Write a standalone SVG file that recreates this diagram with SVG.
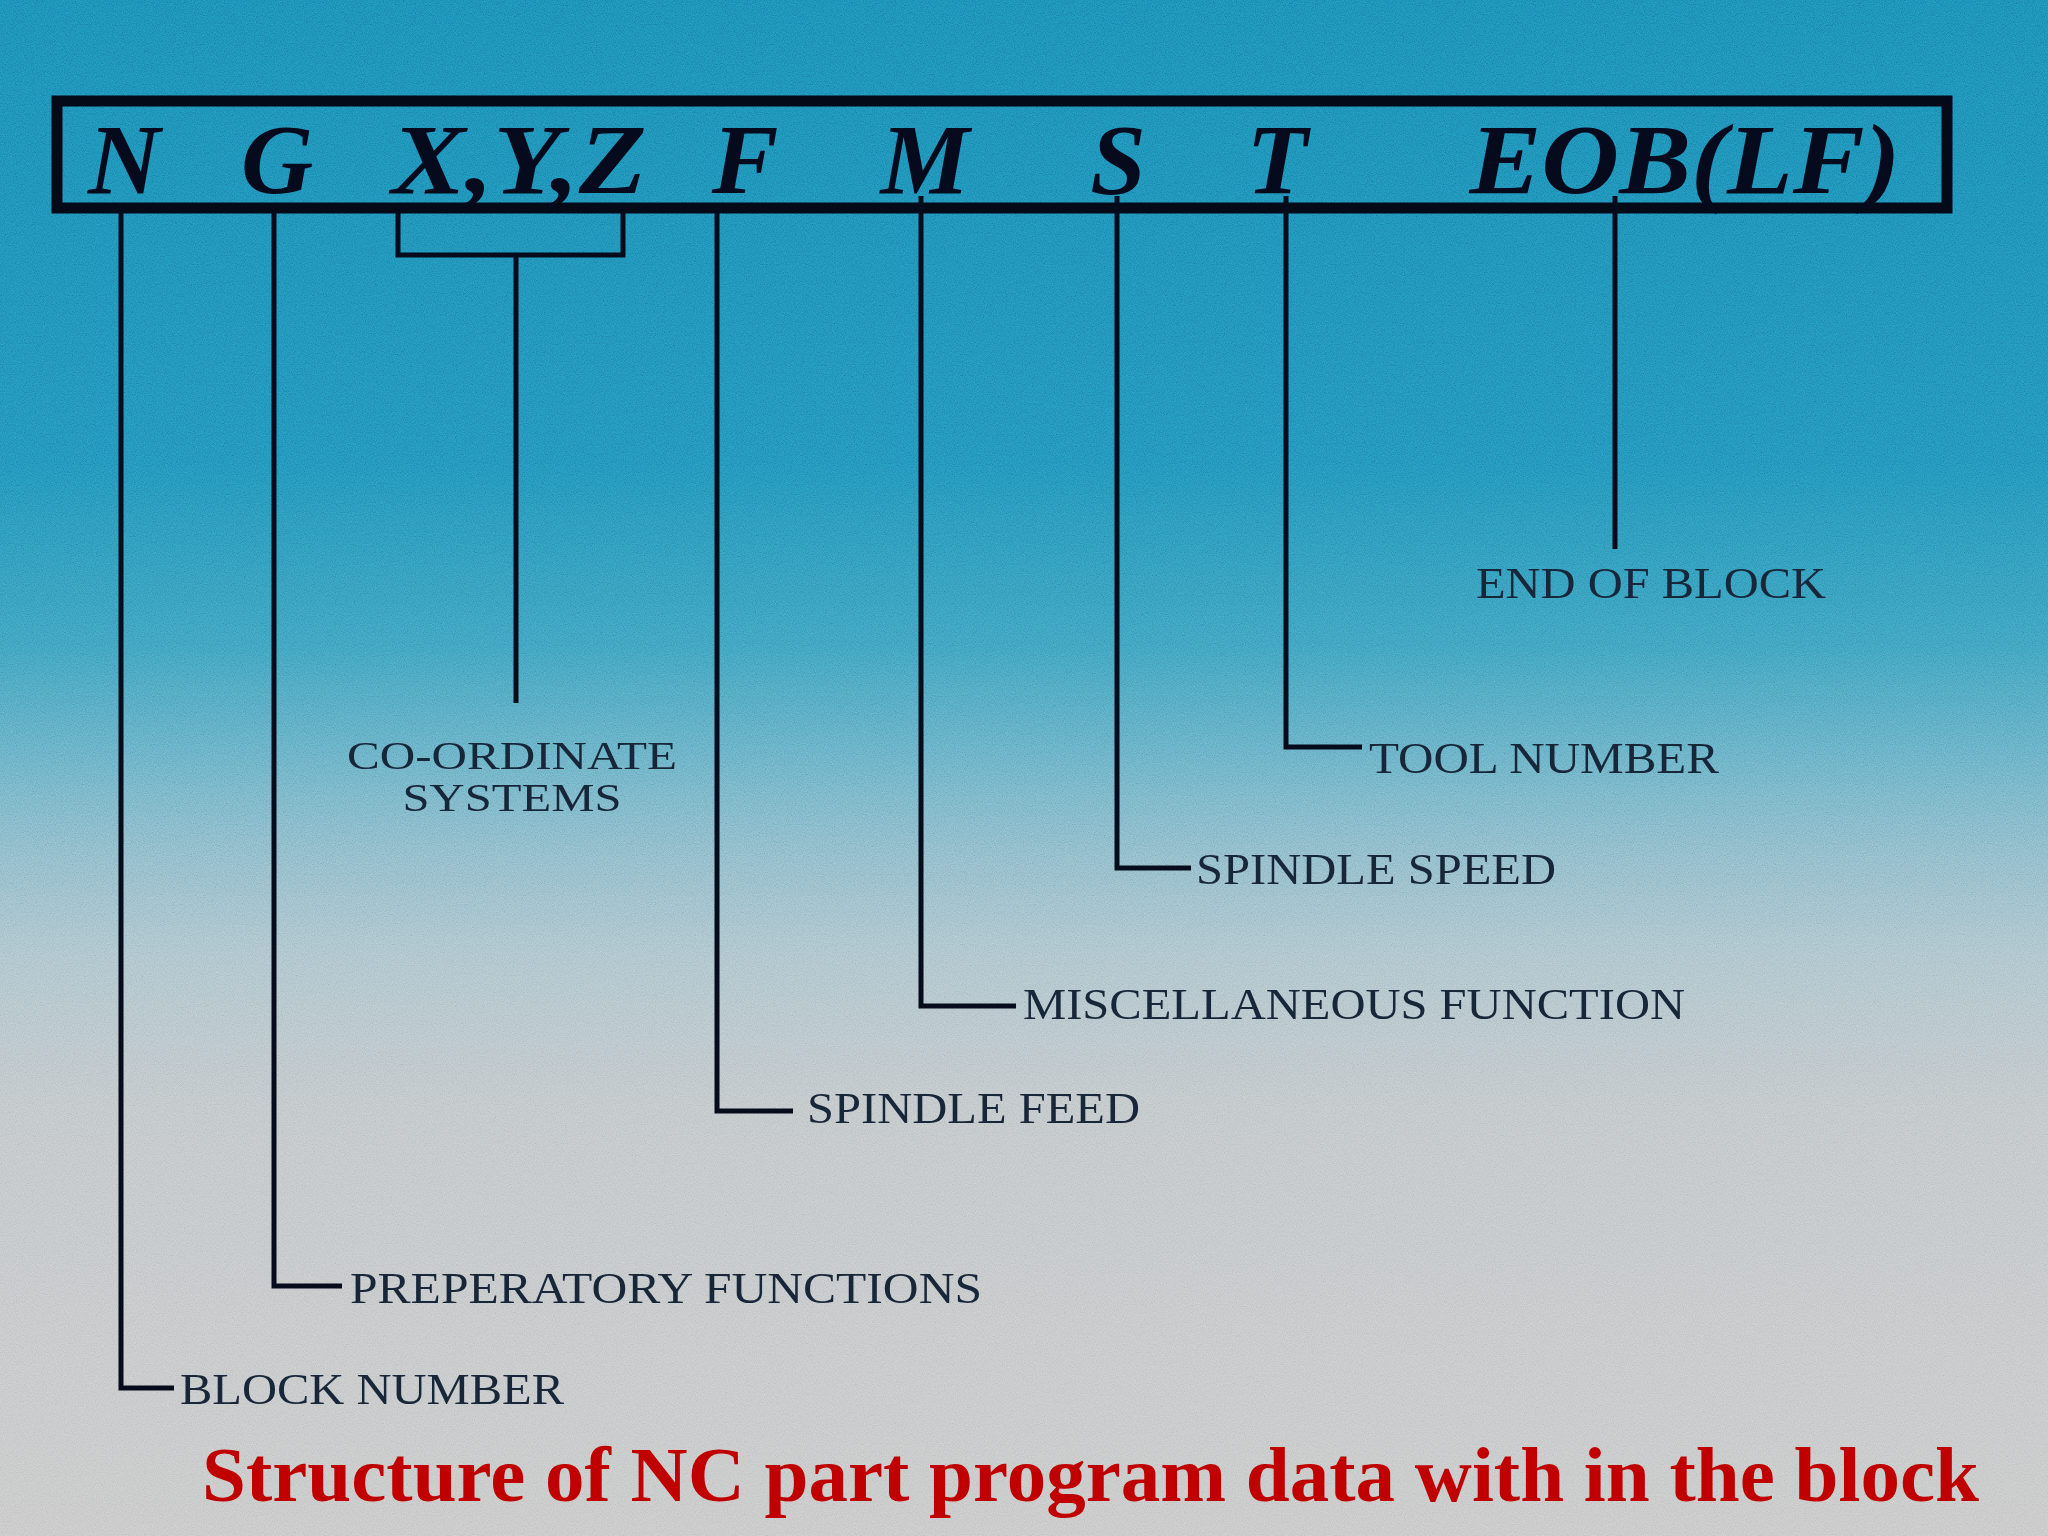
<svg xmlns="http://www.w3.org/2000/svg" width="2048" height="1536" viewBox="0 0 2048 1536">
  <defs>
    <linearGradient id="bg" x1="0" y1="0" x2="0" y2="1">
      <stop offset="0" stop-color="#1a82ae"/>
      <stop offset="0.3" stop-color="#2088b2"/>
      <stop offset="0.42" stop-color="#3a98b8"/>
      <stop offset="0.52" stop-color="#70aec2"/>
      <stop offset="0.62" stop-color="#a4bec7"/>
      <stop offset="0.72" stop-color="#bbc1c4"/>
      <stop offset="1" stop-color="#c3c3c3"/>
    </linearGradient>
    <filter id="noise" x="0" y="0" width="100%" height="100%">
      <feTurbulence type="fractalNoise" baseFrequency="0.9" numOctaves="2" seed="7" result="t"/>
      <feColorMatrix in="t" type="matrix" values="1 0 0 0 0  1 0 0 0 0  1 0 0 0 0  0 0 0 0 1"/>
    </filter>
    <style>
      .box { fill: none; stroke: #050a18; stroke-width: 11; }
      .ln { fill: none; stroke: #060c1c; stroke-width: 5; }
      .code { font-family: "Liberation Serif", "Times New Roman", serif; font-weight: bold; font-style: italic; font-size: 100px; fill: #050a1c; text-anchor: middle; }
      .lbl { font-family: "Liberation Serif", "Times New Roman", serif; font-size: 44px; fill: #18263a; }
      .lbl2 { font-family: "Liberation Serif", "Times New Roman", serif; font-size: 40px; fill: #18263a; text-anchor: middle; }
      .title { font-family: "Liberation Serif", "Times New Roman", serif; font-weight: bold; font-size: 78px; fill: #c00000; }
    </style>
  </defs>

  <rect x="0" y="0" width="2048" height="1536" fill="url(#bg)"/>
  <rect x="0" y="0" width="2048" height="1536" filter="url(#noise)" opacity="0.35" style="mix-blend-mode: overlay"/>

  <g id="block-box">
    <rect class="box" x="57" y="101" width="1890" height="107"/>
    <text class="code" x="124" y="193">N</text>
    <text class="code" x="277" y="193">G</text>
    <text class="code" x="519" y="193" textLength="255" lengthAdjust="spacingAndGlyphs">X,Y,Z</text>
    <text class="code" x="745" y="193">F</text>
    <text class="code" x="925" y="193">M</text>
    <text class="code" x="1118" y="193">S</text>
    <text class="code" x="1277" y="193">T</text>
    <text class="code" x="1685" y="193" textLength="431" lengthAdjust="spacingAndGlyphs">EOB(LF)</text>
  </g>

  <g id="connectors">
    <polyline class="ln" points="121,213 121,1388 174,1388"/>
    <polyline class="ln" points="274,213 274,1286 342,1286"/>
    <polyline class="ln" points="398,213 398,255 623,255 623,213"/>
    <line class="ln" x1="516" y1="255" x2="516" y2="703"/>
    <polyline class="ln" points="717,213 717,1111 793,1111"/>
    <polyline class="ln" points="921,196 921,1006 1016,1006"/>
    <polyline class="ln" points="1117,196 1117,868 1191,868"/>
    <polyline class="ln" points="1286,196 1286,747 1362,747"/>
    <line class="ln" x1="1615" y1="196" x2="1615" y2="549"/>
  </g>

  <g id="label-block-number"><text class="lbl" x="180" y="1404" textLength="384" lengthAdjust="spacingAndGlyphs">BLOCK NUMBER</text></g>
  <g id="label-preparatory"><text class="lbl" x="350" y="1303" textLength="632" lengthAdjust="spacingAndGlyphs">PREPERATORY FUNCTIONS</text></g>
  <g id="label-coordinate">
    <text class="lbl2" x="512" y="769" textLength="330" lengthAdjust="spacingAndGlyphs">CO-ORDINATE</text>
    <text class="lbl2" x="512" y="811" textLength="219" lengthAdjust="spacingAndGlyphs">SYSTEMS</text>
  </g>
  <g id="label-spindle-feed"><text class="lbl" x="807" y="1123" textLength="333" lengthAdjust="spacingAndGlyphs">SPINDLE FEED</text></g>
  <g id="label-misc"><text class="lbl" x="1023" y="1019" textLength="662" lengthAdjust="spacingAndGlyphs">MISCELLANEOUS FUNCTION</text></g>
  <g id="label-spindle-speed"><text class="lbl" x="1196" y="884" textLength="360" lengthAdjust="spacingAndGlyphs">SPINDLE SPEED</text></g>
  <g id="label-tool-number"><text class="lbl" x="1369" y="773" textLength="350" lengthAdjust="spacingAndGlyphs">TOOL NUMBER</text></g>
  <g id="label-end-of-block"><text class="lbl" x="1476" y="598" textLength="350" lengthAdjust="spacingAndGlyphs">END OF BLOCK</text></g>

  <g id="title"><text class="title" x="202" y="1501" textLength="1777" lengthAdjust="spacingAndGlyphs">Structure of NC part program data with in the block</text></g>
</svg>
